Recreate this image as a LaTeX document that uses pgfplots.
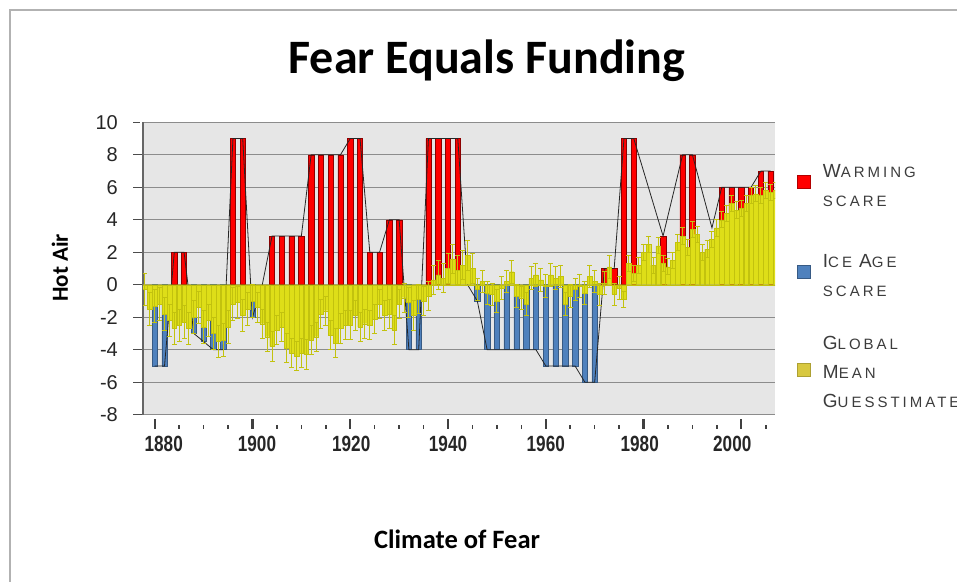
\documentclass[border=0pt]{standalone}
\usepackage{graphicx}
\usepackage{pgfplots}
\usepackage{pgfplotstable}
\pgfplotsset{compat=1.18}
\usepackage{fontspec}
\setmainfont{Liberation Sans}
\newfontfamily\calibri{Carlito}
\newfontfamily\legfont[LetterSpace=20]{Liberation Sans}
\definecolor{bg}{HTML}{E6E6E6}
\definecolor{gridc}{HTML}{8C8C8C}
\definecolor{warm}{HTML}{FF0000}
\definecolor{ice}{HTML}{4F81BD}
\definecolor{ybarc}{HTML}{DEDE18}
\definecolor{yedge}{HTML}{C2C20E}
\definecolor{legy}{HTML}{D8C840}
\definecolor{txt}{HTML}{3C3C3C}
\newcommand{\SC}[2]{{\fontsize{19}{19}\selectfont #1}{\fontsize{15}{15}\selectfont #2}}
\newcommand{\legtxt}[1]{\parbox[c]{160pt}{\legfont\color{txt}\fontsize{15}{29}\selectfont #1}}
\newcommand{\xl}[1]{\scalebox{0.78}[1]{\bfseries #1}}

\pgfplotstableread{
year val err
1877 -1.2 1.0
1878 -0.3 1.0
1879 -1.5 1.0
1880 -1.3 1.0
1881 -1.2 1.0
1882 -1.8 1.0
1883 -2.2 1.0
1884 -2.7 1.0
1885 -2.5 1.0
1886 -2.3 1.0
1887 -2.7 1.0
1888 -2.0 1.0
1889 -1.4 1.0
1890 -2.6 1.0
1891 -2.2 1.0
1892 -3.0 1.0
1893 -3.5 1.0
1894 -3.4 1.0
1895 -2.6 1.0
1896 -1.2 1.0
1897 -1.1 1.0
1898 -1.9 1.0
1899 -1.5 1.0
1900 -1.0 1.0
1901 -1.4 0.9
1902 -2.4 0.9
1903 -3.2 0.9
1904 -3.8 0.9
1905 -2.8 0.9
1906 -2.6 0.9
1907 -3.9 0.9
1908 -4.2 0.9
1909 -4.4 0.9
1910 -4.2 0.9
1911 -4.3 0.9
1912 -3.4 0.9
1913 -3.2 0.9
1914 -1.8 0.9
1915 -1.6 0.9
1916 -3.1 0.9
1917 -3.6 0.9
1918 -2.7 0.9
1919 -2.5 0.9
1920 -2.5 0.9
1921 -1.9 0.9
1922 -2.6 0.9
1923 -2.4 0.9
1924 -2.5 0.9
1925 -2.1 0.9
1926 -1.2 0.9
1927 -1.9 0.9
1928 -1.8 0.9
1929 -2.8 0.9
1930 -1.2 0.9
1931 -0.8 0.9
1932 -1.1 0.9
1933 -1.9 0.9
1934 -0.9 0.9
1935 -1.0 0.9
1936 -0.7 0.9
1937 0.3 0.9
1938 0.6 0.9
1939 0.4 0.9
1940 1.0 0.9
1941 1.6 0.9
1942 0.9 0.9
1943 1.2 0.9
1944 1.8 0.9
1945 1.0 0.9
1946 -0.3 0.7
1947 0.2 0.7
1948 -0.5 0.7
1949 -0.6 0.7
1950 -1.0 0.7
1951 -0.2 0.7
1952 0.2 0.7
1953 0.8 0.7
1954 -0.7 0.7
1955 -0.8 0.7
1956 -1.2 0.7
1957 0.4 0.7
1958 0.6 0.7
1959 0.3 0.7
1960 -0.1 0.7
1961 0.6 0.7
1962 0.4 0.7
1963 0.5 0.7
1964 -1.2 0.7
1965 -0.7 0.7
1966 -0.3 0.7
1967 -0.1 0.7
1968 -0.5 0.7
1969 0.5 0.7
1970 0.2 0.7
1971 -0.6 0.7
1972 0.1 0.7
1973 1.1 0.7
1974 -0.6 0.7
1975 -0.2 0.7
1976 -0.9 0.5
1977 1.3 0.5
1978 0.7 0.5
1979 1.2 0.5
1980 2.0 0.5
1981 2.5 0.5
1982 1.2 0.5
1983 2.4 0.5
1984 1.3 0.5
1985 1.1 0.5
1986 1.5 0.5
1987 2.6 0.5
1988 3.0 0.5
1989 2.3 0.5
1990 3.4 0.5
1991 3.1 0.5
1992 2.0 0.5
1993 2.2 0.5
1994 2.8 0.5
1995 3.5 0.5
1996 4.0 0.5
1997 4.4 0.5
1998 5.0 0.5
1999 4.6 0.5
2000 4.7 0.5
2001 5.0 0.5
2002 5.5 0.5
2003 5.6 0.5
2004 5.5 0.5
2005 5.8 0.5
2006 5.7 0.5
2007 5.8 0.5
}\yellowdata

\begin{document}
\begin{tikzpicture}
\draw[gray!60, line width=1.5pt] (10pt,-5pt) -- (10pt,571pt) -- (975pt,571pt);
\begin{axis}[
  at={(143pt,166.3pt)}, anchor=south west,
  width=632pt, height=292.4pt, scale only axis,
  xmin=1877.6, xmax=2006.9, ymin=-8, ymax=10,
  axis background/.style={fill=bg},
  axis lines*=left,
  x axis line style={draw=none},
  y axis line style={draw=gray!80!black, line width=1.2pt},
  tick align=outside,
  major tick length=10pt,
  minor tick length=4pt,
  ytick={-8,-6,-4,-2,0,2,4,6,8,10},
  yticklabels={-8,-6,-4,-2,0,2,4,6,8,10},
  xtick={1880,1900,1920,1940,1960,1980,2000},
  xticklabels={\hspace*{18pt}\xl{1880},\hspace*{9pt}\xl{1900},\hspace*{2pt}\xl{1920},\xl{1940},\xl{1960},\xl{1980}\hspace*{7.6pt},\xl{2000}\hspace*{18pt}},
  minor xtick={1885,1890,1895,1905,1910,1915,1925,1930,1935,1945,1950,1955,1965,1970,1975,1985,1990,1995,2005},
  every major y tick/.append style={draw=gray!60!black, line width=1pt, shorten >=3pt},
  every major x tick/.append style={draw=black!75, line width=2.2pt, yshift=-4pt},
  every minor x tick/.append style={draw=black!75, line width=1.6pt, yshift=-10pt},
  ymajorgrids,
  grid style={draw=gridc, line width=1.3pt},
  yticklabel style={font=\fontsize{20}{20}\selectfont, text=black!85, anchor=east, inner sep=0pt, xshift=-15pt},
  xticklabel style={font=\fontsize{22}{22}\selectfont, text=black!85, anchor=north, inner sep=0pt, yshift=-11pt},
  title={\calibri\bfseries\fontsize{48}{48}\selectfont Fear Equals Funding},
  title style={at={(axis description cs:0.544,1.148)}, anchor=base, inner sep=0pt},
  xlabel={\calibri\bfseries\fontsize{26.5}{26.5}\selectfont Climate of Fear},
  xlabel style={at={(axis description cs:0.497,-0.456)}, anchor=base, inner sep=0pt},
  ylabel={\calibri\bfseries\fontsize{23}{23}\selectfont Hot Air},
  ylabel style={at={(axis description cs:-0.1187,0.502)}, anchor=base, inner sep=0pt},
  legend style={draw=none, fill=none, at={(axis description cs:1.035,0.858)}, anchor=north west,
    inner sep=0pt, row sep=65pt, column sep=12pt, nodes={inner sep=0pt}},
  legend cell align=left,
]
\addplot[ybar, bar width=1.1, bar shift=0pt, fill=warm, draw=black!45!red, line width=0.5pt,
  legend image code/.code={\draw[fill=warm, draw=black!30!red, line width=0.6pt] (0pt,-12pt) rectangle (13pt,1pt);}]
coordinates {(1884,2) (1886,2) (1896,9) (1898,9) (1904,3) (1906,3) (1908,3) (1910,3)
 (1912,8) (1914,8) (1916,8) (1918,8) (1920,9) (1922,9) (1924,2) (1926,2) (1928,4) (1930,4)
 (1936,9) (1938,9) (1940,9) (1942,9) (1972,1) (1974,1) (1976,9) (1978,9) (1984,3)
 (1988,8) (1990,8) (1996,6) (1998,6) (2000,6) (2002,6) (2004,7) (2006,7)};
\addlegendentry{\legtxt{\SC{W}{ARMING}\\\SC{}{SCARE}}}
\addplot[ybar, bar width=1.1, bar shift=0pt, fill=ice, draw=ice!70!black, line width=0.5pt,
  legend image code/.code={\draw[fill=ice, draw=ice!70!black, line width=0.6pt] (0pt,-12pt) rectangle (13pt,1pt);}]
coordinates {(1880,-5) (1882,-5) (1888,-3) (1890,-3.5) (1892,-4) (1894,-4) (1900,-2)
 (1932,-4) (1934,-4) (1946,-1) (1948,-4) (1950,-4) (1952,-4) (1954,-4) (1956,-4) (1958,-4)
 (1960,-5) (1962,-5) (1964,-5) (1966,-5) (1968,-6) (1970,-6)};
\addlegendentry{\legtxt{\SC{I}{CE} \SC{A}{GE}\\\SC{}{SCARE}}}
\addplot[black!85, line width=0.8pt, mark=none, forget plot]
coordinates {(1880,-5) (1882,-5) (1884,2) (1886,2) (1888,-3) (1890,-3.5) (1892,-4) (1894,-4)
 (1896,9) (1898,9) (1900,-2) (1902,0) (1904,3) (1906,3) (1908,3) (1910,3) (1912,8) (1914,8)
 (1916,8) (1918,8) (1920,9) (1922,9) (1924,2) (1926,2) (1928,4) (1930,4) (1932,-4) (1934,-4)
 (1936,9) (1938,9) (1940,9) (1942,9) (1944,0) (1946,-1) (1948,-4) (1950,-4) (1952,-4)
 (1954,-4) (1956,-4) (1958,-4) (1960,-5) (1962,-5) (1964,-5) (1966,-5) (1968,-6) (1970,-6)
 (1972,1) (1974,1) (1976,9) (1978,9) (1984,3) (1988,8) (1990,8) (1994,3.5) (1996,6)
 (1998,6) (2000,6) (2002,6) (2004,7) (2006,7)};
\addplot[ybar, bar width=0.95, bar shift=0pt, fill=ybarc, draw=yedge, line width=0.4pt,
  legend image code/.code={\draw[fill=legy, draw=legy!80!black, line width=0.6pt] (0pt,-16.5pt) rectangle (13pt,-3.5pt);},
  error bars/.cd, y dir=both, y explicit,
  error bar style={draw=yedge, line width=1pt},
  error mark options={draw=yedge, rotate=90, mark size=2.5pt, line width=1pt}]
table[x=year, y=val, y error=err] {\yellowdata};
\addlegendentry{\raisebox{0pt}[\dimexpr\height-8.5pt\relax][\depth]{\legtxt{\SC{G}{LOBAL}\\\SC{M}{EAN}\\\SC{G}{UESSTIMATE}}}}
\end{axis}
\pgfresetboundingbox
\path[use as bounding box] (0,0) rectangle (957pt,581pt);
\end{tikzpicture}
\end{document}
